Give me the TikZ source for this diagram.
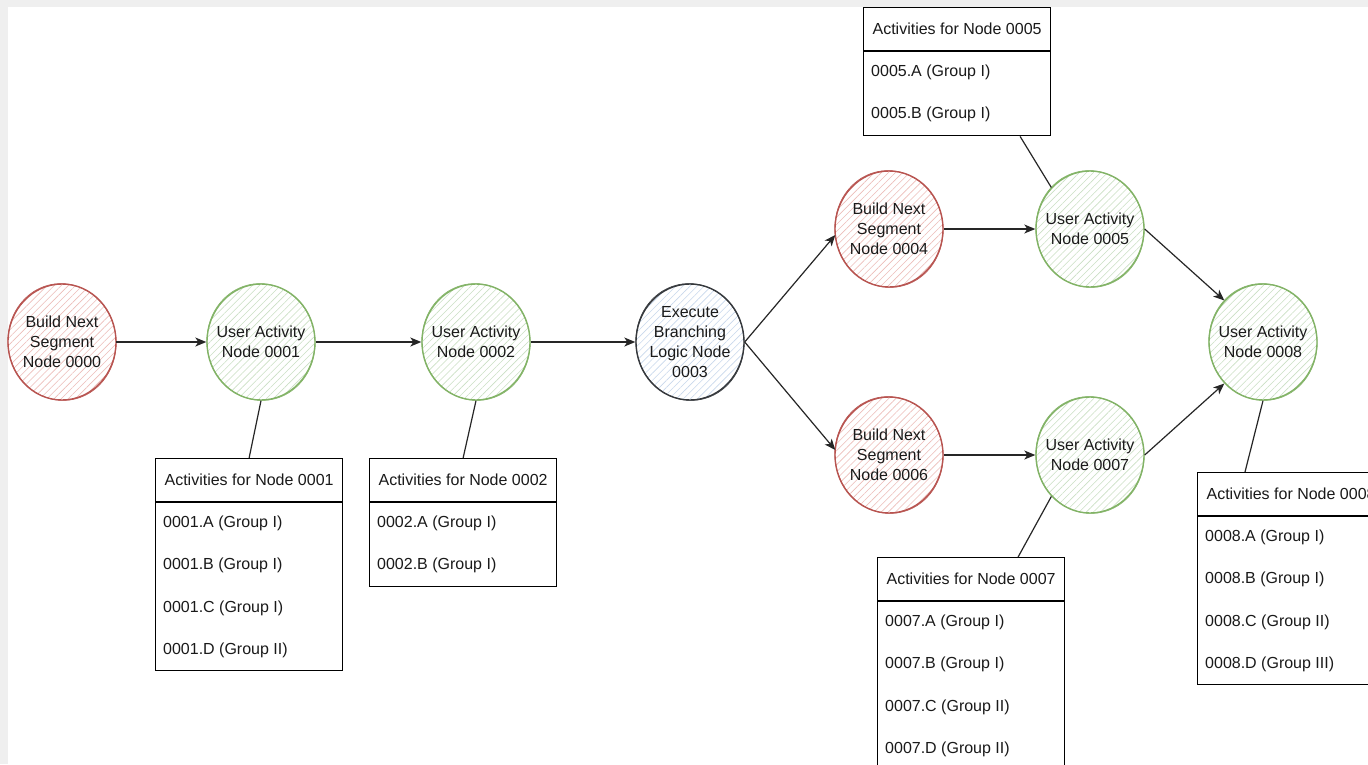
\documentclass[tikz,border=0pt]{standalone}
\usepackage{fontspec}
\setmainfont{Liberation Sans}
\usetikzlibrary{shapes.geometric,arrows.meta,patterns.meta,calc}
\definecolor{redS}{HTML}{B85450}
\definecolor{redH}{HTML}{EDBDB9}
\definecolor{grnS}{HTML}{82B366}
\definecolor{grnH}{HTML}{CBE0C4}
\definecolor{bluS}{HTML}{36393D}
\definecolor{bluH}{HTML}{C8D8EC}
\definecolor{bgG}{HTML}{EFEFEF}
\definecolor{txt}{HTML}{1A1A1A}
\newcommand{\actbox}[5]{%
  \node[hdr] (#1h) at (#2) {#4};
  \node[bodybox, minimum height=#3] (#1b) at (#1h.south west) {};
  \foreach \t [count=\i] in {#5} {
    \node[item] (#1i\i) at ($(#1b.north west)+(8,{21+42.5*(\i-1)})$) {\t};
  }
}
\begin{document}
\begin{tikzpicture}[x=1pt,y=-1pt,
  every node/.style={font=\fontsize{16}{20}\selectfont, text=txt, inner sep=0pt},
  circ/.style={ellipse, minimum width=108pt, minimum height=116pt, inner xsep=-12pt, inner ysep=0pt, line width=1.4pt, align=center},
  redc/.style={circ, draw=redS, pattern={Lines[angle=45,distance=5pt,line width=0.6pt]}, pattern color=redH},
  grnc/.style={circ, draw=grnS, pattern={Lines[angle=45,distance=5pt,line width=0.6pt]}, pattern color=grnH},
  bluc/.style={circ, draw=bluS, pattern={Lines[angle=45,distance=5pt,line width=0.6pt]}, pattern color=bluH},
  sk/.style={draw=#1, line width=0.6pt},
  hdr/.style={draw=black, line width=1.2pt, minimum width=187pt, minimum height=43pt, anchor=north west, fill=white},
  bodybox/.style={draw=black, line width=1.2pt, minimum width=187pt, anchor=north west, fill=white},
  item/.style={anchor=west},
  arr/.style={-{Stealth[length=11pt,width=9pt,inset=3pt]}, line width=1.2pt, draw=black!85},
  link/.style={line width=1.2pt, draw=black!85}
]
\useasboundingbox (0,0) rectangle (1368,764);
\clip (0,0) rectangle (1368,764);
\fill[bgG] (0,0) rectangle (1368,764);
\fill[white] (8,7) rectangle (1368,764);

% circles
\node[redc] (n0) at (62,342) {Build Next\\Segment\\Node 0000};
\node[grnc] (n1) at (261,342) {User Activity\\Node 0001};
\node[grnc] (n2) at (476,342) {User Activity\\Node 0002};
\node[bluc] (n3) at (690,342) {Execute\\Branching\\Logic Node\\0003};
\node[redc] (n4) at (889,229) {Build Next\\Segment\\Node 0004};
\node[grnc] (n5) at (1090,229) {User Activity\\Node 0005};
\node[redc] (n6) at (889,455) {Build Next\\Segment\\Node 0006};
\node[grnc] (n7) at (1090,455) {User Activity\\Node 0007};
\node[grnc] (n8) at (1263,342) {User Activity\\Node 0008};

% sketchy second strokes
\draw[sk=redS, rotate around={8:(n0.center)}] (n0.center) ellipse (54 and 58.5);
\draw[sk=grnS, rotate around={8:(n1.center)}] (n1.center) ellipse (54 and 58.5);
\draw[sk=grnS, rotate around={8:(n2.center)}] (n2.center) ellipse (54 and 58.5);
\draw[sk=bluS, rotate around={8:(n3.center)}] (n3.center) ellipse (54 and 58.5);
\draw[sk=redS, rotate around={8:(n4.center)}] (n4.center) ellipse (54 and 58.5);
\draw[sk=grnS, rotate around={8:(n5.center)}] (n5.center) ellipse (54 and 58.5);
\draw[sk=redS, rotate around={8:(n6.center)}] (n6.center) ellipse (54 and 58.5);
\draw[sk=grnS, rotate around={8:(n7.center)}] (n7.center) ellipse (54 and 58.5);
\draw[sk=grnS, rotate around={8:(n8.center)}] (n8.center) ellipse (54 and 58.5);

% activity boxes
\actbox{b1}{155,458}{168pt}{Activities for Node 0001}{0001.A (Group I),0001.B (Group I),0001.C (Group I),0001.D (Group II)}
\actbox{b2}{369,458}{84pt}{Activities for Node 0002}{0002.A (Group I),0002.B (Group I)}
\actbox{b5}{863,7}{84pt}{Activities for Node 0005}{0005.A (Group I),0005.B (Group I)}
\actbox{b7}{877,557}{170pt}{Activities for Node 0007}{0007.A (Group I),0007.B (Group I),0007.C (Group II),0007.D (Group II)}
\actbox{b8}{1197,472}{168pt}{Activities for Node 0008}{0008.A (Group I),0008.B (Group I),0008.C (Group II),0008.D (Group III)}

% arrows
\draw[arr] (n0) -- (n1);
\draw[arr] (n1) -- (n2);
\draw[arr] (n2) -- (n3);
\draw[arr] (n3.east) -- ($(n4.west)+(1,6)$);
\draw[arr] (n3.east) -- ($(n6.west)+(1,-5)$);
\draw[arr] (n4) -- (n5);
\draw[arr] (n6) -- (n7);
\draw[arr] (n5.east) -- (n8.north west);
\draw[arr] (n7.east) -- (n8.south west);

% links to activity boxes
\coordinate (c5) at ($(b5b.south)+(63,0)$);
\coordinate (c7) at ($(b7h.north)+(47,0)$);
\coordinate (c8) at ($(b8h.north west)+(48,0)$);
\draw[link] (n1.south) -- (b1h.north);
\draw[link] (n2.south) -- (b2h.north);
\draw[link] (c5) -- (n5.north west);
\draw[link] (n7.south west) -- (c7);
\draw[link] (n8.south) -- (c8);
\end{tikzpicture}
\end{document}
